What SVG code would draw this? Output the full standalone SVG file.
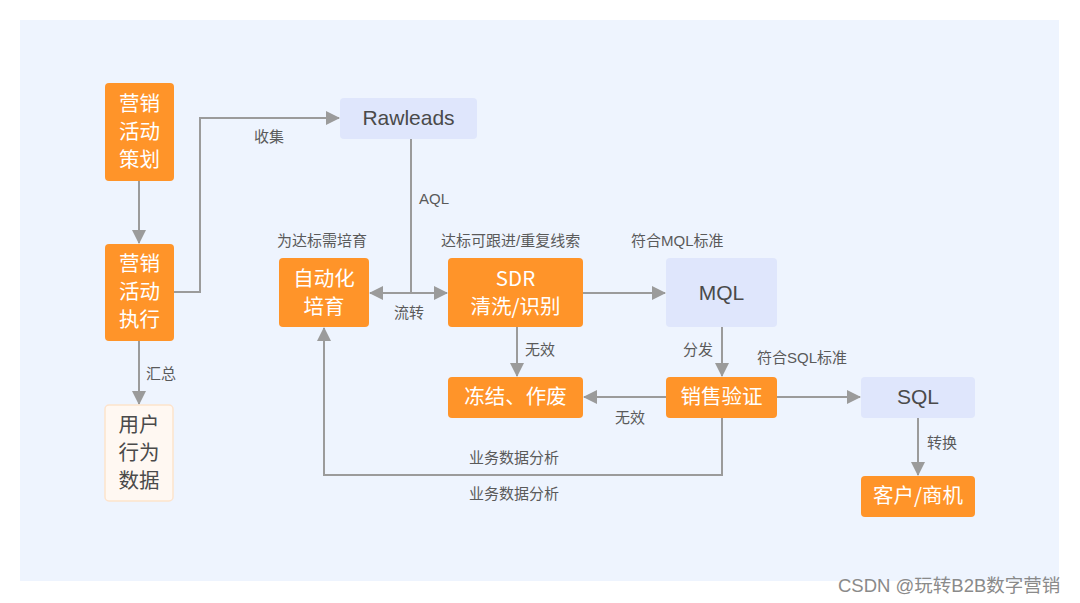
<svg xmlns="http://www.w3.org/2000/svg" width="1080" height="603" viewBox="0 0 1080 603">
<defs>
<style>
.o{fill:#FF9429;}
.b{fill:#DFE6FC;}
.u{fill:#FFF8F2;stroke:#FDE3CC;stroke-width:1.5;}
.wt{fill:#FFFFFF;font-family:"Noto Sans CJK SC","Liberation Sans",sans-serif;font-size:20.5px;text-anchor:middle;}
.dt{fill:#4A4A4A;font-family:"Liberation Sans","Noto Sans CJK SC",sans-serif;font-size:21px;text-anchor:middle;}
.lb{fill:#5A5A5A;font-family:"Liberation Sans","Noto Sans CJK SC",sans-serif;font-size:15px;}
.c{fill:none;stroke:#9B9B9B;stroke-width:2;}
</style>
<marker id="ah" markerUnits="userSpaceOnUse" markerWidth="14" markerHeight="14" refX="13" refY="7" orient="auto-start-reverse" viewBox="0 0 14 14">
<path d="M0,0 L14,7 L0,14 z" fill="#9B9B9B"/>
</marker>
</defs>
<rect x="0" y="0" width="1080" height="603" fill="#FFFFFF"/>
<rect x="20" y="20" width="1039" height="561" fill="#EEF4FE"/>

<g id="connectors">
<path class="c" d="M139,181 V243" marker-end="url(#ah)"/>
<path class="c" d="M174,292 H200 V118 H339" marker-end="url(#ah)"/>
<path class="c" d="M139,341 V404" marker-end="url(#ah)"/>
<path class="c" d="M411,139 V293"/>
<path class="c" d="M370,293 H447" marker-start="url(#ah)" marker-end="url(#ah)"/>
<path class="c" d="M583,293 H665" marker-end="url(#ah)"/>
<path class="c" d="M517,327 V376" marker-end="url(#ah)"/>
<path class="c" d="M722,327 V376" marker-end="url(#ah)"/>
<path class="c" d="M666,397 H584" marker-end="url(#ah)"/>
<path class="c" d="M777,397 H860" marker-end="url(#ah)"/>
<path class="c" d="M918,418 V475" marker-end="url(#ah)"/>
<path class="c" d="M722,418 V475 H324 V328" marker-end="url(#ah)"/>
<text class="lb" x="254" y="142">收集</text>
<text class="lb" x="146" y="379">汇总</text>
<text class="lb" x="419" y="204">AQL</text>
<text class="lb" x="394" y="318">流转</text>
<text class="lb" x="525" y="355">无效</text>
<text class="lb" x="683" y="355">分发</text>
<text class="lb" x="615" y="423">无效</text>
<text class="lb" x="757" y="363">符合SQL标准</text>
<text class="lb" x="927" y="448">转换</text>
<text class="lb" x="469" y="463">业务数据分析</text>
<text class="lb" x="469" y="499">业务数据分析</text>
<text class="lb" x="277" y="246">为达标需培育</text>
<text class="lb" x="441" y="246">达标可跟进/重复线索</text>
<text class="lb" x="631" y="246">符合MQL标准</text>
</g>

<g id="n-plan">
<rect class="o" x="105" y="83" width="69" height="98" rx="4"/>
<text class="wt" x="139.5" y="111">营销<tspan x="139.5" dy="28">活动</tspan><tspan x="139.5" dy="28">策划</tspan></text>
</g>
<g id="n-exec">
<rect class="o" x="105" y="244" width="69" height="97" rx="4"/>
<text class="wt" x="139.5" y="271">营销<tspan x="139.5" dy="28">活动</tspan><tspan x="139.5" dy="28">执行</tspan></text>
</g>
<g id="n-user">
<rect class="u" x="105" y="405" width="68" height="96" rx="4"/>
<text class="dt" x="139" y="432" style="font-size:20.5px">用户<tspan x="139" dy="28">行为</tspan><tspan x="139" dy="28">数据</tspan></text>
</g>
<g id="n-raw">
<rect class="b" x="340" y="98" width="137" height="41" rx="4"/>
<text class="dt" x="408.5" y="125">Rawleads</text>
</g>
<g id="n-auto">
<rect class="o" x="279" y="258" width="90" height="69" rx="4"/>
<text class="wt" x="324" y="286">自动化<tspan x="324" dy="28">培育</tspan></text>
</g>
<g id="n-sdr">
<rect class="o" x="448" y="258" width="135" height="69" rx="4"/>
<text class="wt" x="515.5" y="286">SDR<tspan x="515.5" dy="28">清洗/识别</tspan></text>
</g>
<g id="n-freeze">
<rect class="o" x="448" y="377" width="135" height="41" rx="4"/>
<text class="wt" x="515.5" y="404">冻结、作废</text>
</g>
<g id="n-mql">
<rect class="b" x="666" y="258" width="111" height="69" rx="4"/>
<text class="dt" x="721.5" y="300">MQL</text>
</g>
<g id="n-sales">
<rect class="o" x="666" y="377" width="111" height="41" rx="4"/>
<text class="wt" x="721.5" y="404">销售验证</text>
</g>
<g id="n-sql">
<rect class="b" x="861" y="377" width="114" height="41" rx="4"/>
<text class="dt" x="918" y="404">SQL</text>
</g>
<g id="n-cust">
<rect class="o" x="861" y="476" width="114" height="41" rx="4"/>
<text class="wt" x="918" y="503">客户/商机</text>
</g>
<text x="838" y="592" fill="#8A8A8A" font-family="Liberation Sans,Noto Sans CJK SC,sans-serif" font-size="18.5">CSDN @玩转B2B数字营销</text>
</svg>
